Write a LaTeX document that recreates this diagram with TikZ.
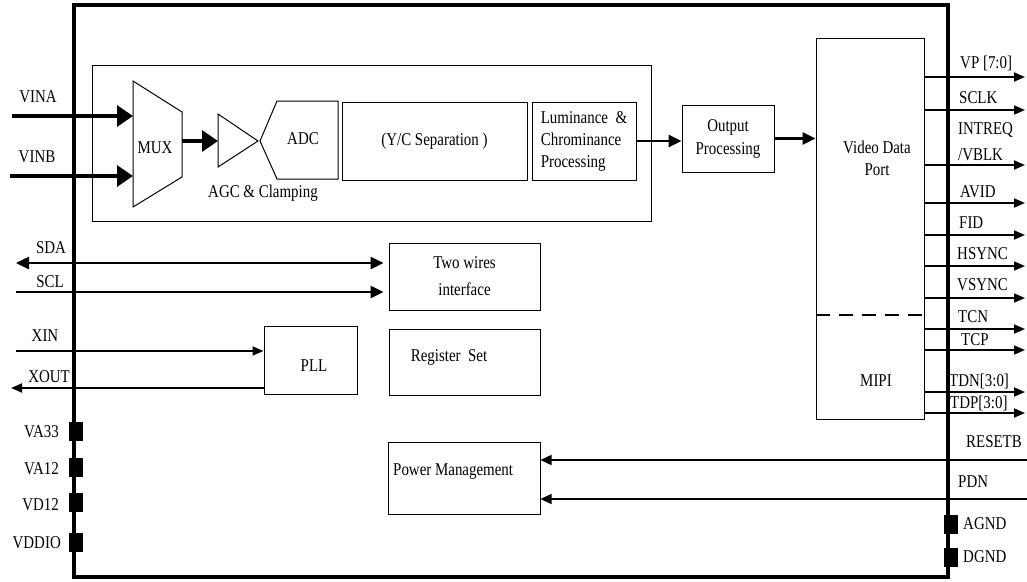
\documentclass[tikz,border=0pt]{standalone}
\usepackage{fontspec}
\setmainfont{Liberation Serif}[FakeStretch=0.83]
\usetikzlibrary{positioning,arrows.meta}

\tikzstyle{box} = [rectangle, draw=black, line width=1pt, inner sep=0pt,
    font=\fontsize{18}{22}\selectfont]
\tikzstyle{lbl} = [inner sep=0pt, font=\fontsize{18}{22}\selectfont]
\tikzstyle{pad} = [rectangle, fill=black, minimum width=14pt, minimum height=19pt, inner sep=0pt]
\tikzstyle{fat} = [line width=3.2pt, -{Triangle[length=16pt,width=21pt]}]
\tikzstyle{bus} = [line width=2.5pt, -{Triangle[length=13pt,width=12pt]}]
\tikzstyle{wire} = [line width=1.8pt, -{Triangle[length=11pt,width=9pt]}]
\tikzstyle{thinwire} = [line width=1.4pt, -{Triangle[length=11pt,width=10pt]}]

\begin{document}
\begin{tikzpicture}[%
x=1pt, y=-1pt,
node distance=5mm,
line join=miter,
]
\useasboundingbox (0,0) rectangle (1027,581);

% chip outline and analog front end
\node[box, line width=3.5pt, minimum width=874pt, minimum height=572pt] (chip) at (511,291) {};
\node[box, minimum width=559pt, minimum height=156pt] (afe) at (371.5,143) {};

% mux, agc, adc
\draw[line width=1pt] (133,81) -- (182,112) -- (182,177) -- (133,207) -- cycle;
\coordinate (muxA) at (133,116);
\coordinate (muxB) at (133,176);
\coordinate (muxO) at (182,141);
\node[lbl] (mux) at (155,148) {MUX};
\draw[line width=1pt] (218,114) -- (258,141) -- (218,167) -- cycle;
\coordinate (agcin) at (218,141);
\draw[line width=1pt] (260,141) -- (277,101) -- (338,101) -- (338,179) -- (277,179) -- cycle;
\node[lbl] (adc) at (303,139) {ADC};
\node[lbl] (agc) at (263,193) {AGC \& Clamping};

\node[box, minimum width=185pt, minimum height=78pt] (yc) at (434.5,141) {(Y/C Separation )};
\node[box, minimum width=104pt, minimum height=78pt, align=left] (lum) at (584,141)
    {Luminance\ \ \&\\Chrominance\\Processing};
\node[box, minimum width=92pt, minimum height=67pt, align=center] (outp) at (728,138.5)
    {Output\\[1pt]Processing};
\node[box, minimum width=108pt, minimum height=381pt] (vdp) at (870,228.5) {};
\node[lbl, align=center] (vdpL) at (877,158) {Video Data\\Port};
\node[lbl] (mipi) at (876,381) {MIPI};
\draw[line width=2pt, dash pattern=on 14pt off 9pt] (vdp.west |- 0,315) -- (vdp.east |- 0,315);

\draw[fat] (muxO) -- (agcin);
\draw[bus] (lum.east) -- (lum.east -| outp.west);
\draw[bus] (outp.east) -- (outp.east -| vdp.west);

% control blocks
\node[box, minimum width=151pt, minimum height=67pt, align=center] (twi) at (464.5,276.5)
    {Two wires\\[5pt]interface};
\node[box, minimum width=93pt, minimum height=68pt] (pll) at (310.5,360) {};
\node[lbl] (pllL) at (314,366) {PLL};
\node[box, minimum width=151pt, minimum height=66pt] (reg) at (464.5,362) {};
\node[lbl] (regL) at (449,357) {Register\ \ Set};
\node[box, minimum width=152pt, minimum height=72pt] (pwr) at (464,478) {};
\node[lbl, anchor=west] (pwrL) at (393,472) {Power Management};

% left pins
\coordinate (vina) at (12,116);
\coordinate (vinb) at (10,176);
\node[lbl] (vinaL) at (38,97) {VINA};
\node[lbl] (vinbL) at (37,157) {VINB};
\draw[fat] (vina) -- (muxA);
\draw[fat] (vinb) -- (muxB);

\coordinate (sda) at (16,263);
\coordinate (scl) at (16,292);
\node[lbl] (sdaL) at (51,248) {SDA};
\node[lbl] (sclL) at (50,282) {SCL};
\draw[bus, {Triangle[length=13pt,width=12pt]}-{Triangle[length=13pt,width=12pt]}, shorten >=5pt]
    (sda) -- (sda -| twi.west);
\draw[bus, shorten >=5pt] (scl) -- (scl -| twi.west);

\coordinate (xin) at (16,351);
\coordinate (xout) at (11,388);
\node[lbl] (xinL) at (45,336) {XIN};
\node[lbl] (xoutL) at (49,377) {XOUT};
\draw[wire] (xin) -- (xin -| pll.west);
\draw[wire] (xout -| pll.west) -- (xout);

\node[pad] (va33) at (76,431.5) {};
\node[pad] (va12) at (76,467.5) {};
\node[pad] (vd12) at (76,502) {};
\node[pad] (vddio) at (76,542.5) {};
\node[lbl, anchor=east] (va33L) at (59,432) {VA33};
\node[lbl, anchor=east] (va12L) at (59,469) {VA12};
\node[lbl, anchor=east] (vd12L) at (59,505) {VD12};
\node[lbl, anchor=east] (vddioL) at (61,543) {VDDIO};

% right pins
\coordinate (vp) at (1025,77);
\coordinate (sclk) at (1025,110);
\coordinate (intreq) at (1025,165);
\coordinate (avid) at (1025,203);
\coordinate (fid) at (1025,235);
\coordinate (hsync) at (1025,266);
\coordinate (vsync) at (1025,298);
\coordinate (tcn) at (1025,329);
\coordinate (tcp) at (1025,350);
\coordinate (tdn) at (1025,392);
\coordinate (tdp) at (1025,413);
\draw[wire] (vdp.east |- vp) -- (vp);
\draw[wire] (vdp.east |- sclk) -- (sclk);
\draw[wire] (vdp.east |- intreq) -- (intreq);
\draw[wire] (vdp.east |- avid) -- (avid);
\draw[wire] (vdp.east |- fid) -- (fid);
\draw[wire] (vdp.east |- hsync) -- (hsync);
\draw[wire] (vdp.east |- vsync) -- (vsync);
\draw[wire] (vdp.east |- tcn) -- (tcn);
\draw[wire] (vdp.east |- tcp) -- (tcp);
\draw[wire] (vdp.east |- tdn) -- (tdn);
\draw[wire] (vdp.east |- tdp) -- (tdp);
\node[lbl, anchor=west] (vpL) at (960,63) {VP [7:0]};
\node[lbl, anchor=west] (sclkL) at (959,98) {SCLK};
\node[lbl, anchor=west] (intreqL) at (958,130) {INTREQ};
\node[lbl, anchor=west] (vblkL) at (958,155) {/VBLK};
\node[lbl, anchor=west] (avidL) at (960,192) {AVID};
\node[lbl, anchor=west] (fidL) at (959,223) {FID};
\node[lbl, anchor=west] (hsyncL) at (957,254) {HSYNC};
\node[lbl, anchor=west] (vsyncL) at (957,285) {VSYNC};
\node[lbl, anchor=west] (tcnL) at (958,317) {TCN};
\node[lbl, anchor=west] (tcpL) at (961,340) {TCP};
\node[lbl, anchor=west] (tdnL) at (949,381) {TDN[3:0]};
\node[lbl, anchor=west] (tdpL) at (950,403) {TDP[3:0]};

\coordinate (rst) at (1027,460);
\coordinate (pdn) at (1027,499);
\draw[thinwire] (rst) -- (rst -| pwr.east);
\draw[thinwire] (pdn) -- (pdn -| pwr.east);
\node[lbl, anchor=west] (rstL) at (966,442) {RESETB};
\node[lbl, anchor=west] (pdnL) at (958,482) {PDN};

\node[pad] (agnd) at (951,524) {};
\node[pad] (dgnd) at (951,557) {};
\node[lbl, anchor=west] (agndL) at (963,524) {AGND};
\node[lbl, anchor=west] (dgndL) at (963,557) {DGND};

\end{tikzpicture}
\end{document}
